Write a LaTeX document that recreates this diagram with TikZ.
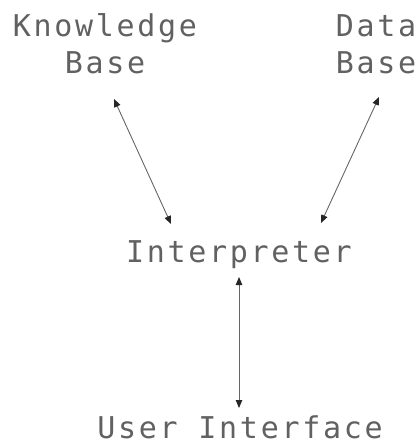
\documentclass[tikz,border=0pt]{standalone}
\usepackage{fontspec}
\usetikzlibrary{arrows.meta}
\newfontfamily\plotfont[LetterSpace=9]{DejaVu Sans Mono}
\begin{document}
\begin{tikzpicture}[x=1pt,y=-1pt,
  lbl/.style={font=\plotfont\fontsize{30pt}{37pt}\selectfont, text=black!62, inner sep=0pt, align=center, anchor=base},
  link/.style={draw=black!60, line width=0.9pt, {Triangle[length=8pt,width=6.5pt,color=black!85]}-{Triangle[length=8pt,width=6.5pt,color=black!85]}}]
\useasboundingbox (0,0) rectangle (419,441);
\node[lbl] (kb) at (105,74) {Knowledge\\Base};
\node[lbl] (db) at (376,74) {Data\\Base};
\node[lbl] (int) at (239,262) {Interpreter};
\node[lbl, text depth=0pt] (ui) at (240,438) {User Interface};
\coordinate (kbA) at (114,99);
\coordinate (kbB) at (171,224);
\coordinate (dbA) at (379,97);
\coordinate (dbB) at (321,223);
\coordinate (intA) at (239,277);
\coordinate (uiA) at (239,408);
\draw[link] (kbA) -- (kbB);
\draw[link] (dbA) -- (dbB);
\draw[link] (intA) -- (uiA);
\end{tikzpicture}
\end{document}
